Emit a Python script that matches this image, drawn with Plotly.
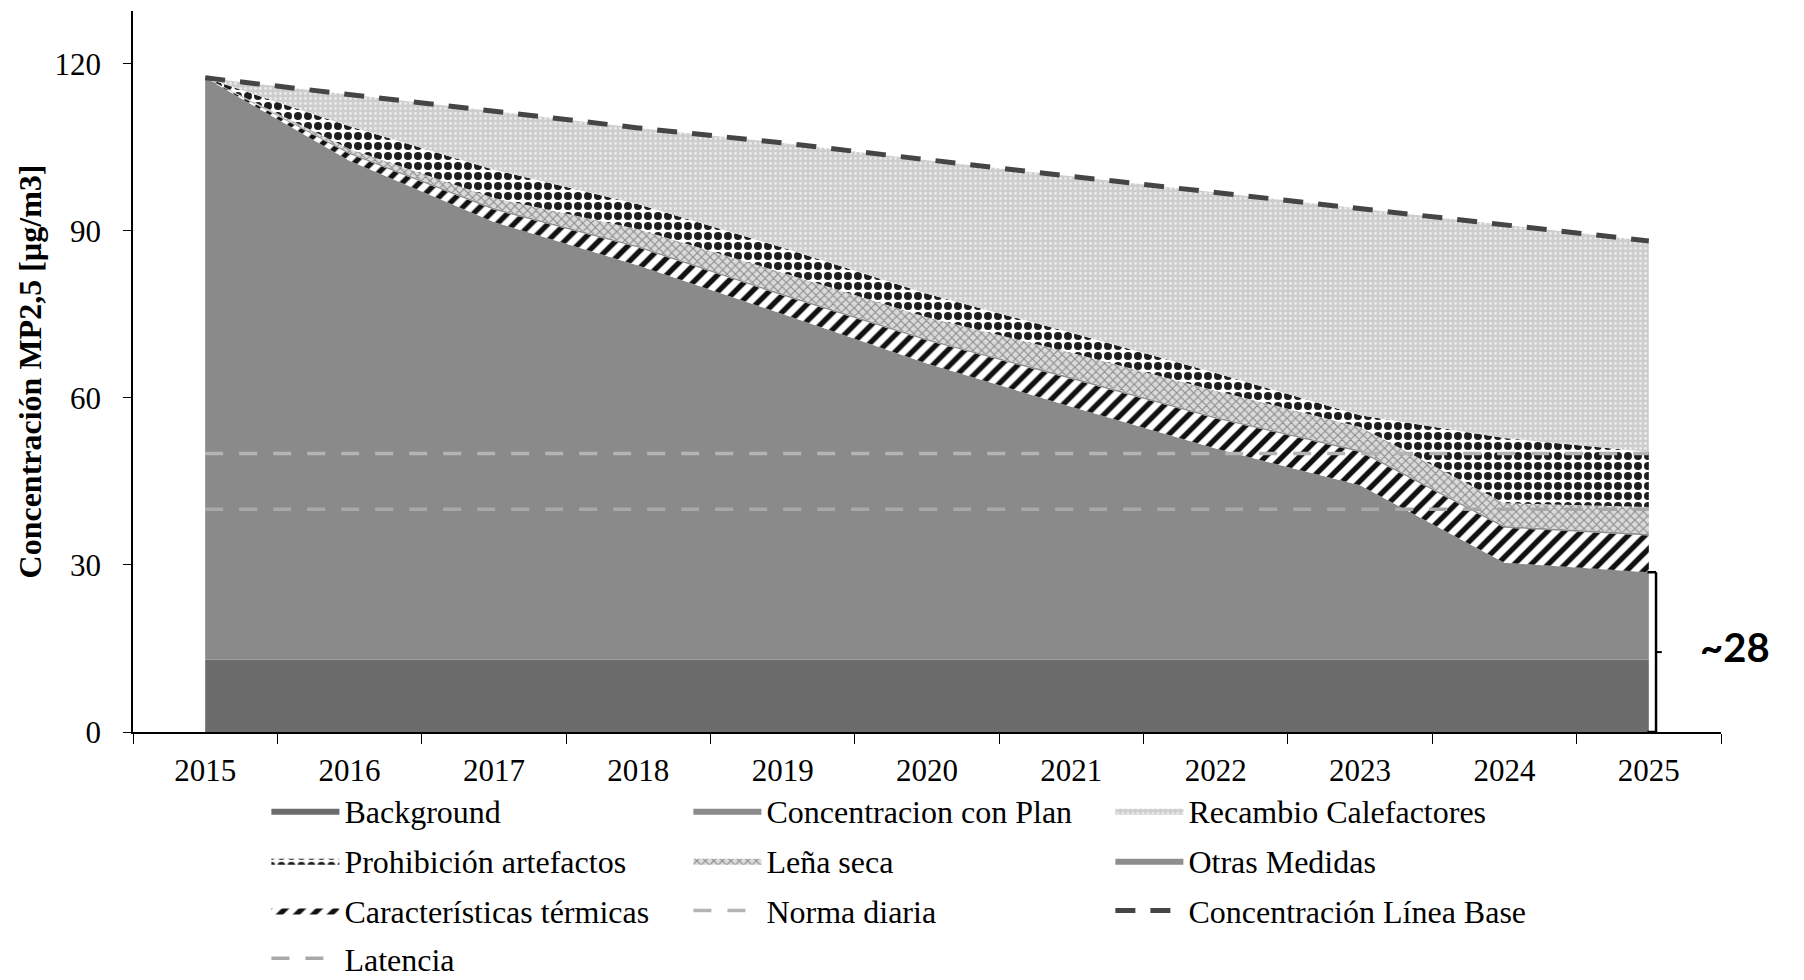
import plotly.graph_objects as go

years = ["2015", "2016", "2017", "2018", "2019", "2020", "2021", "2022", "2023", "2024", "2025"]

background = [13, 13, 13, 13, 13, 13, 13, 13, 13, 13, 13]
con_plan = [104.5, 89.6, 78.6, 70.8, 62.1, 53.2, 45.4, 37.9, 31.3, 17.4, 15.7]
termicas = [0, 1.2, 2.2, 3.2, 3.3, 4.1, 5.0, 5.4, 6.0, 6.3, 6.6]
otras = [0, 0.3, 0.3, 0.3, 0.3, 0.3, 0.3, 0.3, 0.3, 0.3, 0.3]
lena = [0, 0.6, 1.8, 3.0, 3.8, 3.9, 4.4, 4.7, 4.2, 4.1, 4.8]
prohibicion = [0, 4.1, 5.1, 4.5, 4.5, 4.2, 3.6, 3.2, 2.1, 11.7, 9.9]
recambio = [0, 5.7, 10.5, 13.7, 18.8, 24.0, 28.1, 32.4, 37.1, 38.3, 37.9]
linea_base = [117.5, 114.5, 111.5, 108.5, 105.8, 102.7, 99.8, 96.9, 94.0, 91.1, 88.2]
norma_diaria = [50, 50, 50, 50, 50, 50, 50, 50, 50, 50, 50]
latencia = [40, 40, 40, 40, 40, 40, 40, 40, 40, 40, 40]

y_ticks = [0, 30, 60, 90, 120]
annot_text = "~28"

SERIF = "Liberation Serif"
fig = go.Figure()

def area(name, vals, legend, rank, fillcolor, pattern=None):
    kw = dict(x=years, y=vals, name=name, stackgroup="one", mode="lines",
              line=dict(width=0), fillcolor=fillcolor, legend=legend, legendrank=rank,
              hoverinfo="skip")
    if pattern:
        kw["fillpattern"] = pattern
    fig.add_trace(go.Scatter(**kw))

area("Background", background, "legend", 1, "#6c6c6c")
area("Concentracion con Plan", con_plan, "legend", 2, "#8a8a8a")
area("Características térmicas", termicas, "legend3", 1, "#ffffff",
     dict(shape="/", fgcolor="#111111", bgcolor="#ffffff", size=12, solidity=0.45, fillmode="replace"))
area("Otras Medidas", otras, "legend2", 3, "#8e8e8e")
area("Leña seca", lena, "legend2", 2, "#d0d0d0",
     dict(shape="x", fgcolor="#8c8c8c", bgcolor="#dadada", size=6, solidity=0.35, fillmode="replace"))
area("Prohibición artefactos", prohibicion, "legend2", 1, "#ffffff",
     dict(shape=".", fgcolor="#1e1e1e", bgcolor="#ffffff", size=10, solidity=0.5, fillmode="replace"))
area("Recambio Calefactores", recambio, "legend", 3, "#d2d2d2",
     dict(shape=".", fgcolor="#ececec", bgcolor="#cdcdcd", size=5, solidity=0.25, fillmode="replace"))

fig.add_trace(go.Scatter(x=years, y=norma_diaria, name="Norma diaria", mode="lines",
                         line=dict(color="#b4b4b4", width=3.5, dash="18px,16px"),
                         legend="legend3", legendrank=2, hoverinfo="skip"))
fig.add_trace(go.Scatter(x=years, y=latencia, name="Latencia", mode="lines",
                         line=dict(color="#a8a8a8", width=3.5, dash="18px,16px"),
                         legend="legend4", legendrank=1, hoverinfo="skip"))
fig.add_trace(go.Scatter(x=years, y=linea_base, name="Concentración Línea Base", mode="lines",
                         line=dict(color="#454545", width=5, dash="20px,15px"),
                         legend="legend3", legendrank=3, hoverinfo="skip"))

# bracket showing final concentration
top_final = background[-1] + con_plan[-1]
bx = 10.05
fig.add_shape(type="line", xref="x", yref="y", x0=bx, x1=bx, y0=0, y1=top_final,
              line=dict(color="black", width=2.5))
fig.add_shape(type="line", xref="x", yref="y", x0=bx - 0.06, x1=bx, y0=top_final, y1=top_final,
              line=dict(color="black", width=2.5))
fig.add_shape(type="line", xref="x", yref="y", x0=bx - 0.06, x1=bx, y0=0, y1=0,
              line=dict(color="black", width=2.5))
fig.add_shape(type="line", xref="x", yref="y", x0=bx, x1=bx + 0.04, y0=top_final / 2, y1=top_final / 2,
              line=dict(color="black", width=2))
fig.add_annotation(x=1.009, y=top_final / 2 + 1, xref="paper", yref="y", text="<b>" + annot_text + "</b>",
                   showarrow=False, xanchor="center", yanchor="middle",
                   font=dict(family="Lato", size=40, color="black"))

leg_common = dict(orientation="h", xanchor="left", yanchor="middle", x=0.084,
                  entrywidth=339, entrywidthmode="pixels", itemwidth=68, traceorder="normal",
                  font=dict(family=SERIF, size=32, color="black"), bgcolor="rgba(0,0,0,0)")

fig.update_layout(
    width=1804, height=980,
    margin=dict(l=133, r=83, t=11, b=248, autoexpand=False),
    paper_bgcolor="white", plot_bgcolor="white",
    font=dict(family=SERIF, size=31, color="black"),
    showlegend=True,
    legend=dict(leg_common, y=-0.1095),
    legend2=dict(leg_common, y=-0.179),
    legend3=dict(leg_common, y=-0.248),
    legend4=dict(leg_common, y=-0.314),
)
fig.update_xaxes(type="category", range=[-0.5, 10.5], showline=True, linecolor="black", linewidth=1.5,
                 ticks="outside", tickson="boundaries", ticklen=10, tickcolor="black",
                 showgrid=False, zeroline=False, tickfont=dict(family=SERIF, size=31),
                 ticklabelstandoff=10, automargin=False)
fig.update_yaxes(range=[0, 129.5], tickvals=y_ticks, showline=True, linecolor="black", linewidth=1.5,
                 ticks="outside", ticklen=8, tickcolor="black", showgrid=False, zeroline=False,
                 tickfont=dict(family=SERIF, size=31), ticklabelstandoff=16, automargin=False,
                 title=dict(text="<b>Concentración MP2,5 [µg/m3]</b>", standoff=3,
                            font=dict(family=SERIF, size=32)))

fig.write_html("out.html", config={"displayModeBar": False},
               post_script="document.body.style.margin='0px';")
